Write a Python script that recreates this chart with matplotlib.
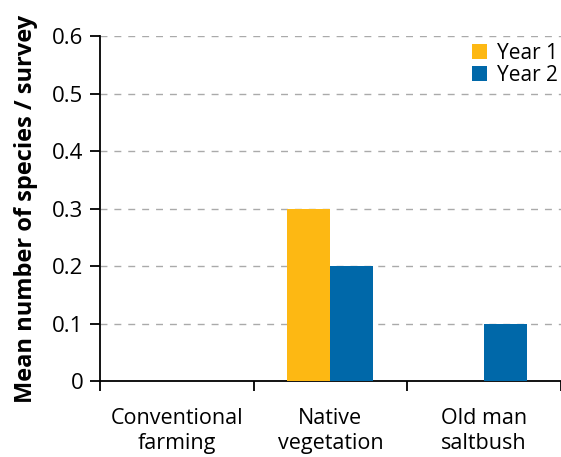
import numpy as np
import matplotlib.pyplot as plt
from matplotlib.ticker import FixedLocator

plt.rcParams['font.family'] = ['Open Sans', 'DejaVu Sans']

categories = ["Conventional\nfarming", "Native\nvegetation", "Old man\nsaltbush"]
year1 = [0.0, 0.3, 0.0]
year2 = [0.0, 0.2, 0.1]
yticks = [0, 0.1, 0.2, 0.3, 0.4, 0.5, 0.6]
ytick_labels = ["0", "0.1", "0.2", "0.3", "0.4", "0.5", "0.6"]

c_year1 = "#FDB813"
c_year2 = "#0068A9"

fig = plt.figure(figsize=(5.61, 4.57), dpi=100)
ax = fig.add_axes([0.178, 0.166, 0.822, 0.755])

x = np.arange(len(categories))
w = 0.28
ax.bar(x - w / 2, year1, w, color=c_year1, label="Year 1", zorder=3)
ax.bar(x + w / 2, year2, w, color=c_year2, label="Year 2", zorder=3)

ax.set_xlim(-0.5, len(categories) - 0.5)
ax.set_ylim(0, 0.6)
ax.set_yticks(yticks)
ax.set_yticklabels(ytick_labels, fontsize=16)
ax.set_xticks(x)
ax.set_xticklabels(categories, fontsize=15.5, linespacing=1.25)
ax.tick_params(axis="x", which="major", length=0, pad=19)
ax.xaxis.set_minor_locator(FixedLocator(np.arange(-0.5, len(categories), 1.0)))
ax.tick_params(axis="x", which="minor", length=7, width=1.3, direction="out")
ax.tick_params(axis="y", length=7, width=1.3, pad=5)

for y in yticks[1:]:
    ax.axhline(y, color="#aaaaaa", lw=1, ls=(0, (5, 5)), zorder=1)

ax.spines["top"].set_visible(False)
ax.spines["right"].set_visible(False)
ax.spines["left"].set_linewidth(1.3)
ax.spines["bottom"].set_linewidth(1.3)

ax.set_ylabel("Mean number of species / survey", fontsize=17, fontweight="bold", labelpad=10)

leg = ax.legend(loc="upper right", bbox_to_anchor=(1.015, 1.01), frameon=False, fontsize=15,
                handlelength=0.75, handleheight=0.75, handletextpad=0.45, labelspacing=0.05,
                borderaxespad=0.1)

fig.savefig("out.png", dpi=100)
